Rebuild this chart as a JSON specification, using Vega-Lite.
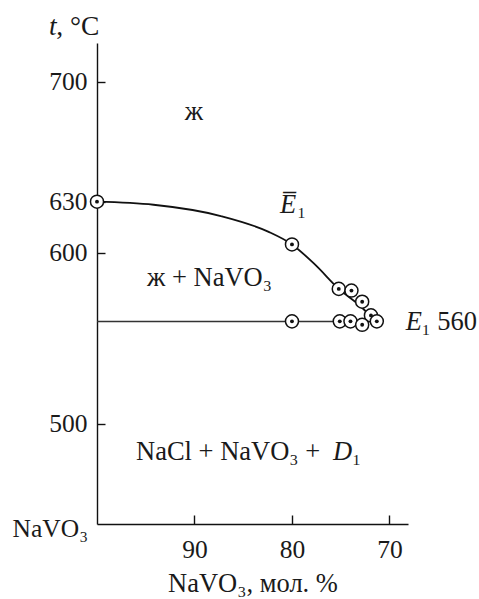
{
  "$schema": "https://vega.github.io/schema/vega-lite/v6.json",
  "width": 311,
  "height": 481,
  "autosize": {"type": "none"},
  "padding": {"left": 97, "top": 43, "right": 71, "bottom": 75},
  "background": "white",
  "config": {
    "view": {"stroke": null},
    "font": "Liberation Serif",
    "axis": {
      "grid": false,
      "domainColor": "#111",
      "domainWidth": 1.4,
      "tickColor": "#111",
      "tickWidth": 1.4,
      "labelColor": "#1a1a1a",
      "labelFont": "Liberation Serif",
      "labelFontSize": 25.5,
      "titleFont": "Liberation Serif",
      "titleFontSize": 26.5,
      "titleFontWeight": "normal",
      "titleColor": "#1a1a1a"
    },
    "text": {"font": "Liberation Serif", "fontSize": 26.5, "color": "#1a1a1a"}
  },
  "encoding": {
    "x": {
      "field": "x",
      "type": "quantitative",
      "scale": {"domain": [68.1, 100], "reverse": true, "nice": false, "zero": false},
      "axis": {
        "values": [90, 80, 70],
        "tickSize": -9,
        "labelPadding": 22,
        "title": "NaVO₃, мол. %",
        "titlePadding": 8
      }
    },
    "y": {
      "field": "t",
      "type": "quantitative",
      "scale": {"domain": [441.5, 722.8], "nice": false, "zero": false},
      "axis": {
        "values": [500, 600, 630, 700],
        "tickSize": -8,
        "labelPadding": 18,
        "title": null
      }
    }
  },
  "layer": [
    {
      "data": {"values": [{"x": 100, "t": 560}, {"x": 71.3, "t": 560}]},
      "mark": {"type": "line", "color": "#333", "strokeWidth": 1.5},
      "encoding": {}
    },
    {
      "data": {"values": [
        {"x": 100, "t": 630},
        {"x": 94.2, "t": 628.2},
        {"x": 87.3, "t": 621.6},
        {"x": 82.45, "t": 612.5},
        {"x": 80, "t": 605},
        {"x": 77.6, "t": 593},
        {"x": 75.2, "t": 579},
        {"x": 73, "t": 569},
        {"x": 71.6, "t": 561}
      ]},
      "mark": {"type": "line", "color": "#111", "strokeWidth": 1.8, "interpolate": "monotone"},
      "encoding": {}
    },
    {
      "data": {"name": "points", "values": [
        {"x": 100, "t": 630},
        {"x": 80, "t": 605},
        {"x": 75.2, "t": 579},
        {"x": 73.9, "t": 578},
        {"x": 72.8, "t": 571.5},
        {"x": 80, "t": 560},
        {"x": 71.9, "t": 563.5},
        {"x": 75.1, "t": 560},
        {"x": 74.0, "t": 560},
        {"x": 72.8, "t": 558},
        {"x": 71.3, "t": 560}
      ]},
      "layer": [
        {
          "mark": {"type": "point", "shape": "circle", "filled": false, "fill": "white", "fillOpacity": 1, "stroke": "#111", "strokeWidth": 1.5, "size": 170, "opacity": 1}
        },
        {
          "mark": {"type": "circle", "color": "#111", "size": 15, "opacity": 1}
        }
      ]
    },
    {
      "data": {"values": [
        {"x": 94.87, "t": 580.7, "text": "ж + NaVO₃"},
        {"x": 96.0, "t": 478.9, "text": "NaCl + NaVO₃ +"},
        {"x": 79.49, "t": 623.4, "text": "₁"},
        {"x": 66.72, "t": 555.0, "text": "₁ 560"},
        {"x": 73.84, "t": 478.9, "text": "₁"}
      ]},
      "mark": {"type": "text", "align": "left", "baseline": "alphabetic"},
      "encoding": {"text": {"field": "text"}}
    },
    {
      "data": {"values": [{"x": 90.05, "t": 677.8, "text": "ж"}]},
      "mark": {"type": "text", "align": "center", "baseline": "alphabetic"},
      "encoding": {"text": {"field": "text"}}
    },
    {
      "data": {"values": [
        {"x": 100.92, "t": 434.1, "text": "NaVO₃"}
      ]},
      "mark": {"type": "text", "align": "right", "baseline": "alphabetic", "fontSize": 25.5},
      "encoding": {"text": {"field": "text"}}
    },
    {
      "data": {"values": [
        {"x": 99.76, "t": 727.5, "text": ", °C"}
      ]},
      "mark": {"type": "text", "align": "right", "baseline": "alphabetic", "fontSize": 27.5},
      "encoding": {"text": {"field": "text"}}
    },
    {
      "data": {"values": [
        {"x": 81.23, "t": 623.4, "text": "E\u0305"},
        {"x": 68.33, "t": 555.0, "text": "E"},
        {"x": 75.79, "t": 478.9, "text": "D"}
      ]},
      "mark": {"type": "text", "align": "left", "baseline": "alphabetic", "fontStyle": "italic"},
      "encoding": {"text": {"field": "text"}}
    },
    {
      "data": {"values": [{"x": 104.13, "t": 727.5, "text": "t"}]},
      "mark": {"type": "text", "align": "right", "baseline": "alphabetic", "fontStyle": "italic", "fontSize": 27.5},
      "encoding": {"text": {"field": "text"}}
    }
  ]
}
